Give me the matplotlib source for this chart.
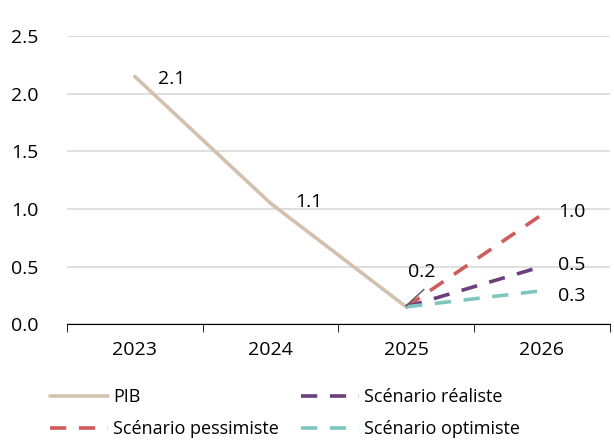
import matplotlib
matplotlib.use("Agg")
from matplotlib import pyplot as plt

plt.rcParams['font.family'] = ['Open Sans', 'DejaVu Sans']

years = ['2023', '2024', '2025', '2026']
pib = [2.15, 1.05, 0.15]
pessimiste = [0.15, 0.95]
realiste = [0.15, 0.50]
optimiste = [0.15, 0.29]
pib_labels = ['2.1', '1.1', '0.2']
end_labels = ['1.0', '0.5', '0.3']

c_pib = '#d3c1b0'
c_pes = '#d05c5c'
c_rea = '#6a3f7c'
c_opt = '#7ec5c0'

fs = 14

fig = plt.figure(figsize=(6.14, 4.41), dpi=100)
ax = fig.add_axes([0.109, 0.265, 0.884, 0.653])

x = range(len(years))
ax.plot(x[:3], pib, color=c_pib, lw=2.6, label='PIB', solid_capstyle='round')
dash = (0, (4.5, 3.5))
ax.plot(x[2:], pessimiste, color=c_pes, lw=2.6, ls=dash, label='Scénario pessimiste')
ax.plot(x[2:], realiste, color=c_rea, lw=2.6, ls=dash, label='Scénario réaliste')
ax.plot(x[2:], optimiste, color=c_opt, lw=2.6, ls=dash, label='Scénario optimiste')

# data labels
ax.text(0.17, 2.13, pib_labels[0], fontsize=fs, va='center', ha='left')
ax.text(1.18, 1.06, pib_labels[1], fontsize=fs, va='center', ha='left')
ax.text(2.01, 0.45, pib_labels[2], fontsize=fs, va='center', ha='left')
ax.plot([2.0, 2.13], [0.16, 0.30], color='#555555', lw=1)
ax.text(3.12, 0.97, end_labels[0], fontsize=fs, va='center', ha='left')
ax.text(3.12, 0.51, end_labels[1], fontsize=fs, va='center', ha='left')
ax.text(3.12, 0.24, end_labels[2], fontsize=fs, va='center', ha='left')

ax.set_xlim(-0.5, 3.5)
ax.set_ylim(0, 2.5)
ax.set_yticks([0, 0.5, 1.0, 1.5, 2.0, 2.5])
ax.set_yticklabels(['0.0', '0.5', '1.0', '1.5', '2.0', '2.5'])
ax.set_xticks(list(x))
ax.set_xticklabels(years)
ax.set_xticks([-0.5, 0.5, 1.5, 2.5, 3.5], minor=True)
ax.tick_params(axis='x', which='major', length=0, pad=12, labelsize=fs)
ax.tick_params(axis='x', which='minor', length=6, direction='out', color='black')
ax.tick_params(axis='y', length=0, labelsize=fs, pad=40)
for lbl in ax.get_yticklabels():
    lbl.set_horizontalalignment('left')

ax.grid(axis='y', color='#d9d9d9', lw=1.2)
ax.set_axisbelow(True)
for s in ['top', 'right', 'left']:
    ax.spines[s].set_visible(False)
ax.spines['bottom'].set_color('black')

fig.legend(loc='lower left', bbox_to_anchor=(0.055, -0.03), ncol=2, frameon=False,
           fontsize=13, handlelength=3.2, handletextpad=0.3, columnspacing=1.2,
           labelspacing=0.75)

fig.savefig('out.png', dpi=100)
